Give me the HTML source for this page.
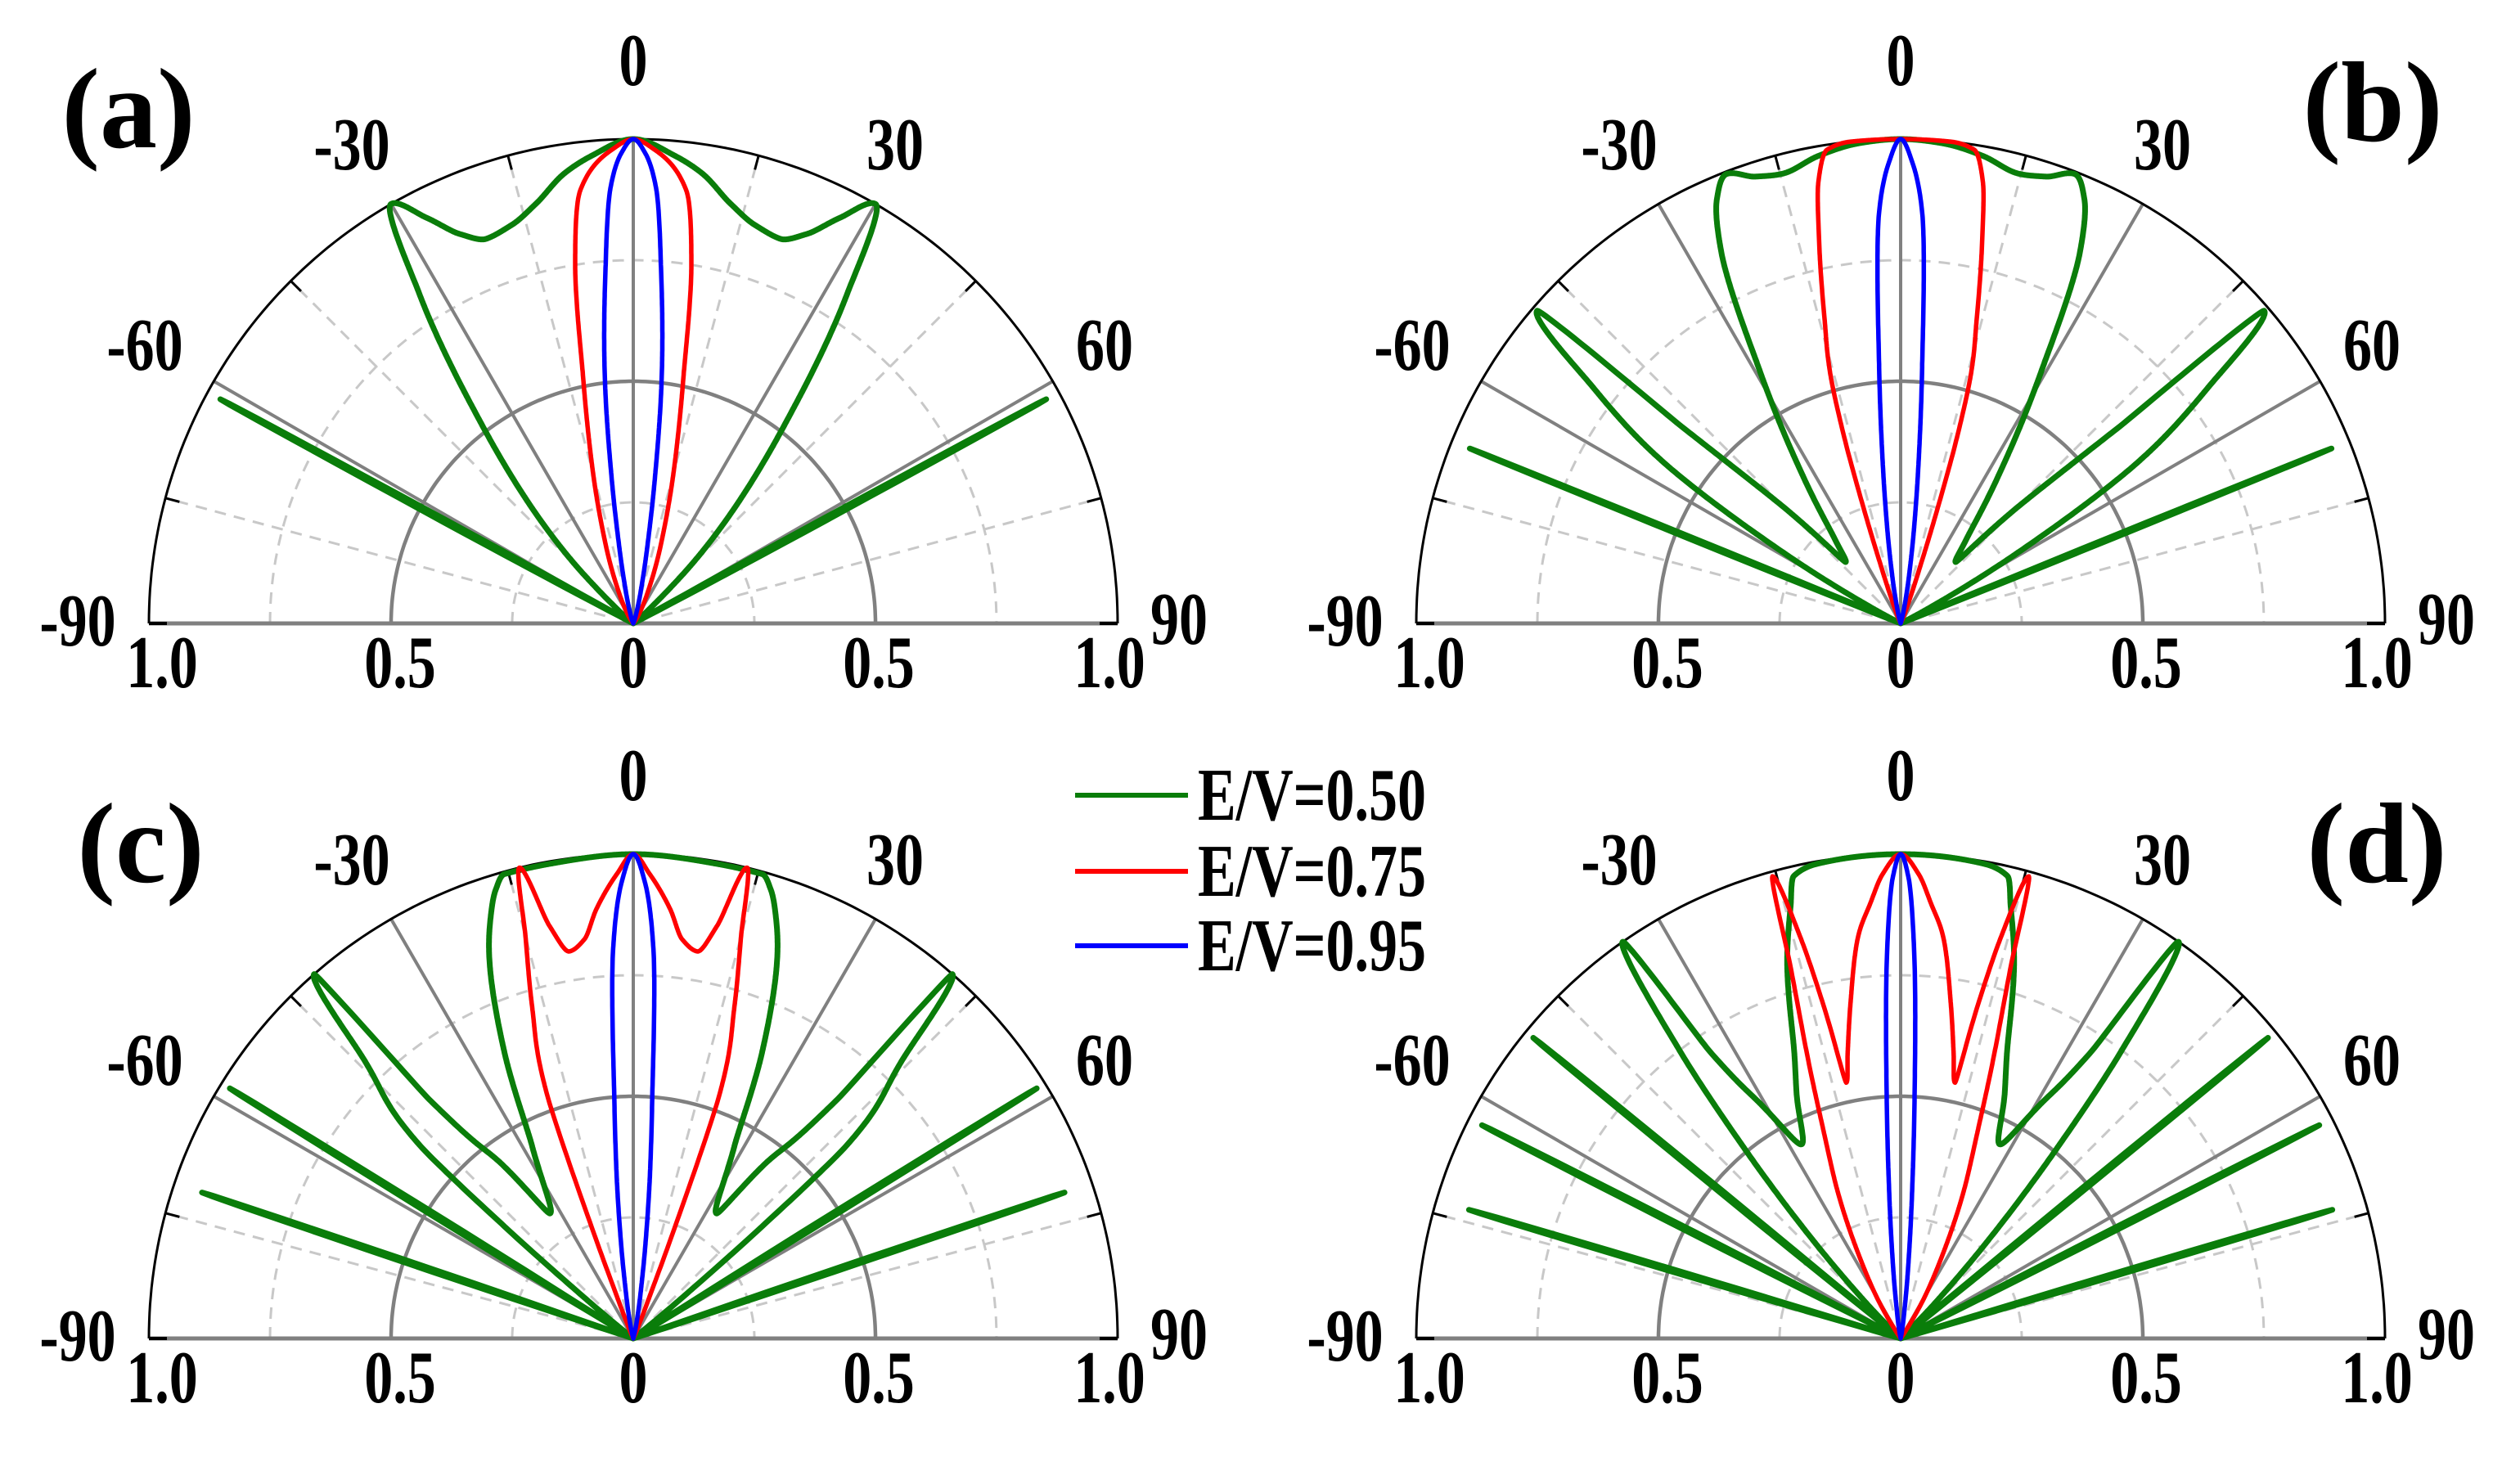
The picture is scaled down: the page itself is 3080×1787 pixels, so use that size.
<!DOCTYPE html>
<html><head><meta charset="utf-8"><style>
html,body{margin:0;padding:0;background:#fff;}
svg{display:block;}
text{font-family:"Liberation Serif",serif;font-weight:bold;fill:#000;}
</style></head><body>
<svg id="fig" width="3080" height="1787" viewBox="0 0 3080 1787" xmlns="http://www.w3.org/2000/svg">
<rect width="3080" height="1787" fill="#fff"/>
</svg>
<script>
// ---- data: [angle in degrees, transmission] ----
const panelLabels = ['(a)','(b)','(c)','(d)'];
const seriesNames = ['E/V=0.50','E/V=0.75','E/V=0.95'];
const angleTicks = [0,-30,30,-60,60,-90,90];
const radialTickLabels = ['1.0','0.5','0','0.5','1.0'];

const aGreen = [[-90,0],[-62.5,0],[-61.8,0.55],[-61.5,0.97],[-61.2,0.55],[-60.5,0],[-56,0],[-52,0.01],[-48,0.05],[-44,0.2],[-37.4,0.51],[-33,0.81],[-30,1],[-27,0.94],[-24,0.88],[-20.8,0.85],[-17,0.86],[-13,0.89],[-8.7,0.94],[-5,0.97],[0,1],
 [5,0.97],[8.7,0.94],[13,0.89],[17,0.86],[20.8,0.85],[24,0.88],[27,0.94],[30,1],[33,0.81],[37.4,0.51],[44,0.2],[48,0.05],[52,0.01],[56,0],[60.5,0],[61.2,0.55],[61.5,0.97],[61.8,0.55],[62.5,0],[90,0]];
const aRed = [[-90,0],[-40,0],[-32,0.02],[-25,0.07],[-19,0.18],[-15,0.32],[-11.5,0.52],[-9.2,0.75],[-7,0.9],[-2.5,0.98],[0,1],[2.5,0.98],[7,0.9],[9.2,0.75],[11.5,0.52],[15,0.32],[19,0.18],[25,0.07],[32,0.02],[40,0],[90,0]];
const aBlue = [[-90,0],[-25,0],[-17,0.02],[-13,0.07],[-10.4,0.16],[-8.5,0.3],[-6.7,0.5],[-4.6,0.72],[-3,0.9],[-1.5,0.97],[0,1],[1.5,0.97],[3,0.9],[4.6,0.72],[6.7,0.5],[8.5,0.3],[10.4,0.16],[13,0.07],[17,0.02],[25,0],[90,0]];

const bGreen = [[-90,0],[-68.5,0],[-68.1,0.55],[-67.9,0.96],[-67.7,0.55],[-67.3,0],[-64,0],[-62,0.05],[-58.9,0.28],[-55.7,0.6],[-52.5,0.8],[-49.3,0.99],[-48,0.6],[-45,0.33],[-41.8,0.17],[-38,0.22],[-33.9,0.35],[-29.1,0.6],[-25.8,0.85],[-23.4,0.955],[-21.2,0.995],[-18,0.97],[-14.6,0.96],[-10,0.98],[-5,0.995],[0,1],
 [5,0.995],[10,0.98],[14.6,0.96],[18,0.97],[21.2,0.995],[23.4,0.955],[25.8,0.85],[29.1,0.6],[33.9,0.35],[38,0.22],[41.8,0.17],[45,0.33],[48,0.6],[49.3,0.99],[52.5,0.8],[55.7,0.6],[58.9,0.28],[62,0.05],[64,0],[67.3,0],[67.7,0.55],[67.9,0.96],[68.1,0.55],[68.5,0],[90,0]];
const bRed = [[-90,0],[-25,0],[-21,0.04],[-19,0.12],[-17.8,0.25],[-17,0.38],[-15.8,0.53],[-14,0.65],[-12,0.81],[-10.5,0.93],[-8.8,0.99],[-6,1],[0,1],[6,1],[8.8,0.99],[10.5,0.93],[12,0.81],[14,0.65],[15.8,0.53],[17,0.38],[17.8,0.25],[19,0.12],[21,0.04],[25,0],[90,0]];
const bBlue = [[-90,0],[-18,0],[-13,0.03],[-10,0.1],[-8,0.2],[-6.5,0.32],[-4.8,0.53],[-3,0.85],[-1.5,0.95],[0,1],[1.5,0.95],[3,0.85],[4.8,0.53],[6.5,0.32],[8,0.2],[10,0.1],[13,0.03],[18,0],[90,0]];

const cGreen = [[-90,0],[-72,0],[-71.6,0.5],[-71.3,0.94],[-71,0.5],[-70.6,0],[-59,0],[-58.5,0.55],[-58.2,0.98],[-57.9,0.55],[-57.4,0],[-52,0],[-50,0.15],[-49,0.35],[-47.9,0.59],[-44,0.8],[-41.2,1],[-40.5,0.65],[-37,0.45],[-33.6,0.31],[-27.7,0.45],[-24.2,0.65],[-20.5,0.85],[-18.8,0.915],[-17,0.97],[-15.5,0.995],[-10,0.995],[0,1],
 [10,0.995],[15.5,0.995],[17,0.97],[18.8,0.915],[20.5,0.85],[24.2,0.65],[27.7,0.45],[33.6,0.31],[37,0.45],[40.5,0.65],[41.2,1],[44,0.8],[47.9,0.59],[49,0.35],[50,0.15],[52,0],[57.4,0],[57.9,0.55],[58.2,0.98],[58.5,0.55],[59,0],[70.6,0],[71,0.5],[71.3,0.94],[71.6,0.5],[72,0],[90,0]];
const cRed = [[-90,0],[-28,0],[-23,0.02],[-21.2,0.1],[-20.6,0.22],[-19.5,0.53],[-16.9,0.72],[-15,0.86],[-13.6,1],[-11.5,0.87],[-9.4,0.81],[-7,0.83],[-4.9,0.89],[-2,0.96],[0,1],[2,0.96],[4.9,0.89],[7,0.83],[9.4,0.81],[11.5,0.87],[13.6,1],[15,0.86],[16.9,0.72],[19.5,0.53],[20.6,0.22],[21.2,0.1],[23,0.02],[28,0],[90,0]];
const cBlue = [[-90,0],[-16,0],[-12,0.03],[-9,0.1],[-7.3,0.2],[-6,0.32],[-4.5,0.5],[-3,0.8],[-1.5,0.94],[0,1],[1.5,0.94],[3,0.8],[4.5,0.5],[6,0.32],[7.3,0.2],[9,0.1],[12,0.03],[16,0],[90,0]];

const dGreen = [[-90,0],[-74,0],[-73.7,0.5],[-73.4,0.93],[-73.1,0.5],[-72.7,0],[-63.7,0],[-63.3,0.55],[-63,0.97],[-62.7,0.55],[-62.3,0],[-51.4,0],[-51,0.55],[-50.7,0.98],[-50.4,0.55],[-50,0],[-47,0],[-44,0.11],[-42,0.25],[-39.4,0.51],[-37.5,0.75],[-35,1],[-33.6,0.71],[-31,0.57],[-27,0.45],[-23,0.55],[-20.4,0.63],[-16.6,0.82],[-14.3,0.92],[-13,0.98],[-10,0.995],[0,1],
 [10,0.995],[13,0.98],[14.3,0.92],[16.6,0.82],[20.4,0.63],[23,0.55],[27,0.45],[31,0.57],[33.6,0.71],[35,1],[37.5,0.75],[39.4,0.51],[42,0.25],[44,0.11],[47,0],[50,0],[50.4,0.55],[50.7,0.98],[51,0.55],[51.4,0],[62.3,0],[62.7,0.55],[63,0.97],[63.3,0.55],[63.7,0],[72.7,0],[73.1,0.5],[73.4,0.93],[73.7,0.5],[74,0],[90,0]];
const dRed = [[-90,0],[-35,0],[-30,0.1],[-27,0.18],[-23.2,0.33],[-20.5,0.45],[-18.2,0.62],[-16.5,0.8],[-15.5,0.99],[-14,0.85],[-13,0.7],[-12,0.54],[-10.5,0.6],[-8.5,0.7],[-5.9,0.84],[-4,0.9],[-2.2,0.96],[0,1],[2.2,0.96],[4,0.9],[5.9,0.84],[8.5,0.7],[10.5,0.6],[12,0.54],[13,0.7],[14,0.85],[15.5,0.99],[16.5,0.8],[18.2,0.62],[20.5,0.45],[23.2,0.33],[27,0.18],[30,0.1],[35,0],[90,0]];
const dBlue = [[-90,0],[-12,0],[-8,0.05],[-6,0.15],[-4.5,0.3],[-3.3,0.5],[-2,0.8],[-1,0.95],[0,1],[1,0.95],[2,0.8],[3.3,0.5],[4.5,0.3],[6,0.15],[8,0.05],[12,0],[90,0]];

const panelSeries = [[aGreen,aRed,aBlue],[bGreen,bRed,bBlue],[cGreen,cRed,cBlue],[dGreen,dRed,dBlue]];

// ---- layout ----
const colors = ['#0a7d0a','#ff0000','#0000ff'];
const widths = [7,5.5,5.5];
const centers = [[774,762],[2323,762],[774,1636],[2323,1636]];
const labelPos = [[157,180],[2900,172],[172,1078],[2905,1078]];
const R = 592;
const NS = 'http://www.w3.org/2000/svg';
const svg = document.getElementById('fig');

function el(tag, attrs, parent){
  const e = document.createElementNS(NS, tag);
  for (const k in attrs) e.setAttribute(k, attrs[k]);
  (parent||svg).appendChild(e);
  return e;
}
function pt(c, deg, r){
  const t = deg*Math.PI/180;
  return [c[0] + r*R*Math.sin(t), c[1] - r*R*Math.cos(t)];
}
function arcPath(c, r){
  let d = '';
  for (let a=-90; a<=90; a+=1){
    const p = pt(c,a,r);
    d += (a===-90?'M':'L') + p[0].toFixed(1)+','+p[1].toFixed(1);
  }
  return d;
}
// monotone cubic (Fritsch-Carlson) through the data points
function slopes(data){
  const n = data.length, dk = [], m = new Array(n).fill(0);
  for (let i=0;i<n-1;i++) dk.push((data[i+1][1]-data[i][1])/(data[i+1][0]-data[i][0]));
  m[0]=dk[0]; m[n-1]=dk[n-2];
  for (let i=1;i<n-1;i++){
    if (dk[i-1]*dk[i] <= 0) m[i]=0;
    else {
      const h0 = data[i][0]-data[i-1][0], h1 = data[i+1][0]-data[i][0];
      const w1 = 2*h1+h0, w2 = h1+2*h0;
      m[i] = (w1+w2)/(w1/dk[i-1]+w2/dk[i]);
    }
  }
  return m;
}
function seriesPath(c, data){
  const m = slopes(data);
  let d = '', first = true;
  for (let i=0;i<data.length-1;i++){
    const [a0,t0] = data[i], [a1,t1] = data[i+1];
    const h = a1-a0;
    const steps = Math.max(2, Math.ceil(h/0.05));
    for (let s=0; s<=steps; s++){
      if (!first && s===0) continue;
      const u = s/steps, u2=u*u, u3=u2*u;
      const T = (2*u3-3*u2+1)*t0 + (u3-2*u2+u)*h*m[i] + (-2*u3+3*u2)*t1 + (u3-u2)*h*m[i+1];
      const p = pt(c, a0+h*u, Math.max(0,T));
      d += (first?'M':'L') + p[0].toFixed(1)+','+p[1].toFixed(1);
      first = false;
    }
  }
  return d;
}
function stretchedText(parent, x, y, size, anchor, str){
  const t = el('text', {transform:'translate('+x+','+y+') scale(1,1.3)', x:0, y:0, 'font-size':size, 'text-anchor':anchor}, parent);
  t.textContent = str;
  return t;
}
const angleLabelOffsets = {'0':[0,-688],'-30':[-344,-585],'30':[320,-585],'-60':[-597,-340],'60':[576,-340],'-90':[-679,-3],'90':[667,-5]};
const radialLabelX = [-576,-285,0,300,582];

panelSeries.forEach((series, pi) => {
  const c = centers[pi];
  const g = el('g', {});
  
  
  [0.25,0.75].forEach(r => {
    const e = el('path', {d:arcPath(c,r), fill:'none', stroke:'#c8c8c8', 'stroke-width':3, 'stroke-dasharray':'14 10'}, g);
    
    
  });
  [-75,-45,-15,15,45,75].forEach(a => {
    const p0 = pt(c,a,0.06), p1 = pt(c,a,1);
    const e = el('line', {x1:p0[0],y1:p0[1],x2:p1[0],y2:p1[1], stroke:'#c8c8c8','stroke-width':3,'stroke-dasharray':'14 10'}, g);
    
    
    const q0 = pt(c,a,0.97);
    const t = el('line', {x1:q0[0],y1:q0[1],x2:p1[0],y2:p1[1], stroke:'#000','stroke-width':3}, g);
    
    
  });
  const mid = el('path', {d:arcPath(c,0.5), fill:'none', stroke:'#808080', 'stroke-width':4.5}, g);
  
  
  [-60,-30,0,30,60].forEach(a => {
    const p1 = pt(c,a,1);
    const e = el('line', {x1:c[0],y1:c[1],x2:p1[0],y2:p1[1], stroke:'#808080','stroke-width':4}, g);
    
    
  });
  const base = el('line', {x1:c[0]-R,y1:c[1],x2:c[0]+R,y2:c[1], stroke:'#808080','stroke-width':5}, g);
  
  
  [[-R,-R+22],[R-22,R]].forEach(([x0,x1]) => {
    const t = el('line', {x1:c[0]+x0,y1:c[1],x2:c[0]+x1,y2:c[1], stroke:'#000','stroke-width':4}, g);
    
    
  });
  const outer = el('path', {d:arcPath(c,1), fill:'none', stroke:'#000', 'stroke-width':3}, g);
  
  
  series.forEach((data, si) => {
    const e = el('path', {d:seriesPath(c,data), fill:'none', stroke:colors[si], 'stroke-width':widths[si], 'stroke-linejoin':'round', 'stroke-linecap':'round'}, g);
    
    
  });
  angleTicks.forEach(a => {
    const o = angleLabelOffsets[String(a)];
    const t = stretchedText(g, c[0]+o[0], c[1]+o[1]+30, 70, 'middle', String(a));
    
    
  });
  radialTickLabels.forEach((s, i) => {
    const t = stretchedText(g, c[0]+radialLabelX[i], c[1]+48+30, 70, 'middle', s);
    
    
  });
  const pl = el('text', {x:labelPos[pi][0], y:labelPos[pi][1], 'font-size':140, 'text-anchor':'middle'}, g);
  pl.textContent = panelLabels[pi];
  
  
});

const lg = el('g', {});


const legendY = [972,1065,1156];
seriesNames.forEach((n, i) => {
  const l = el('line', {x1:1314,y1:legendY[i],x2:1452,y2:legendY[i], stroke:colors[i], 'stroke-width':6}, lg);
  
  
  const t = stretchedText(lg, 1464, legendY[i]+30, 70, 'start', n);
  
  
});
</script>
</body></html>
